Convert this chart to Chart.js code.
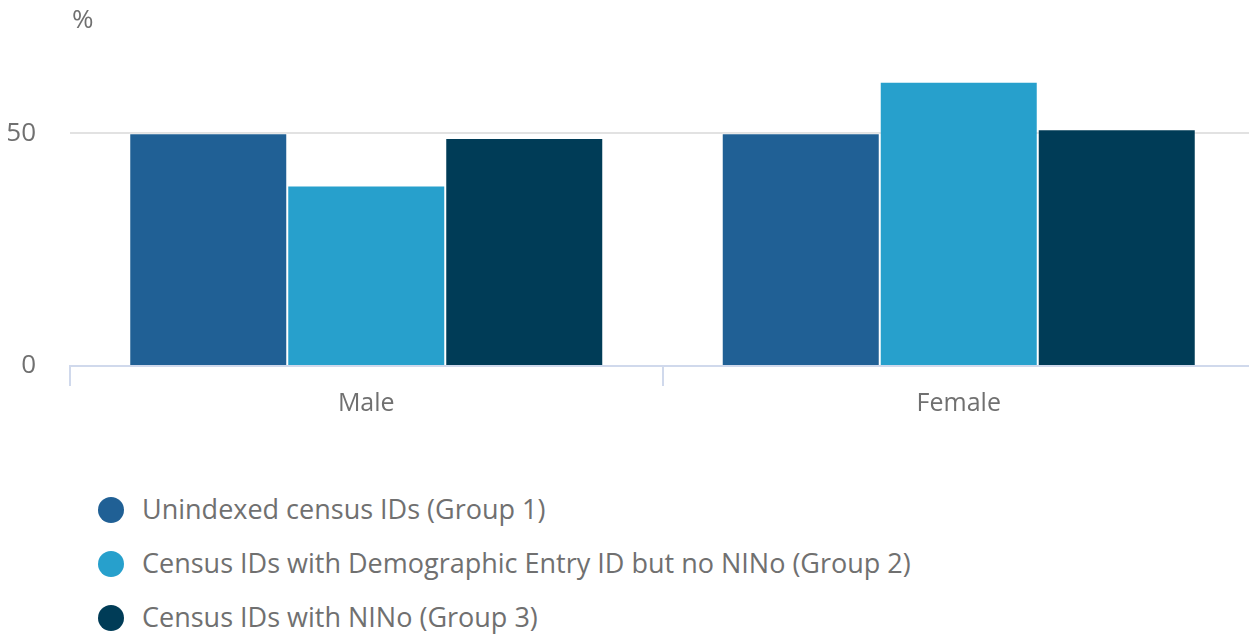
<!DOCTYPE html>
<html>
<head>
<meta charset="utf-8">
<script src="https://cdn.jsdelivr.net/npm/chart.js@4"></script>
<style>
  body { margin: 0; background: #fff; font-family: "Open Sans", sans-serif; overflow: hidden; }
  #wrap { position: relative; width: 1255px; height: 430px; }
  #legend { list-style: none; margin: 0; padding: 0; position: absolute; left: 98px; top: 490px; }
  #legend li { height: 54px; display: flex; align-items: flex-start; font-size: 27px; color: #707070; line-height: 38px; }
  #legend .dot { width: 26px; height: 26px; border-radius: 50%; margin-top: 7px; margin-right: 18px; flex: none; }
</style>
</head>
<body>
<div id="wrap"><canvas id="barChart"></canvas></div>
<ul id="legend"></ul>
<script>
// Categories and series
const categories = ["Male", "Female"];
const seriesNames = [
  "Unindexed census IDs (Group 1)",
  "Census IDs with Demographic Entry ID but no NINo (Group 2)",
  "Census IDs with NINo (Group 3)"
];
const group1 = [50.0, 50.0];
const group2 = [38.8, 61.1];
const group3 = [49.0, 50.9];
const yTicks = [0, 50];

const colors = ["#206095", "#27a0cc", "#003c57"];
const textColor = "#707070";

// Draw the "%" unit label above the y axis
const unitLabel = {
  id: "unitLabel",
  afterDraw(chart) {
    const c = chart.ctx;
    c.save();
    c.font = "26px 'Open Sans'";
    c.fillStyle = textColor;
    c.textBaseline = "middle";
    c.fillText("%", chart.chartArea.left + 2, 21);
    c.restore();
  }
};

const ctx = document.getElementById("barChart").getContext("2d");
const barChart = new Chart(ctx, {
  type: "bar",
  data: {
    labels: categories,
    datasets: [group1, group2, group3].map((values, i) => ({
      label: seriesNames[i],
      data: values,
      backgroundColor: colors[i],
      borderColor: "rgba(255,255,255,0.4)",
      borderWidth: 1,
      barPercentage: 1.0,
      categoryPercentage: 0.8
    }))
  },
  options: {
    responsive: true,
    maintainAspectRatio: false,
    animation: false,
    layout: { padding: { left: 8, top: 40, right: 0, bottom: 8 } },
    plugins: {
      legend: { display: false },
      tooltip: { enabled: false }
    },
    scales: {
      x: {
        offset: true,
        border: { color: "#d0d9ec", width: 2 },
        grid: {
          offset: true,
          drawOnChartArea: false,
          color: "#d0d9ec",
          lineWidth: 2,
          tickLength: 20
        },
        ticks: { color: textColor, font: { family: "Open Sans", size: 25 }, padding: 3 }
      },
      y: {
        min: 0,
        max: 68,
        border: { display: false },
        afterBuildTicks(axis) {
          axis.ticks = yTicks.map(v => ({ value: v }));
        },
        afterFit(axis) {
          axis.width = 62;
        },
        grid: {
          drawTicks: false,
          color: ctx => (ctx.tick && ctx.tick.value === 0 ? "rgba(0,0,0,0)" : "#e2e2e2"),
          lineWidth: 2
        },
        ticks: { color: textColor, font: { family: "Open Sans", size: 26 }, padding: 34 }
      }
    }
  },
  plugins: [unitLabel]
});

// HTML legend built from the series
const legend = document.getElementById("legend");
seriesNames.forEach((name, i) => {
  const li = document.createElement("li");
  li.innerHTML = `<span class="dot" style="background:${colors[i]}"></span><span>${name}</span>`;
  legend.appendChild(li);
});
</script>
</body>
</html>
